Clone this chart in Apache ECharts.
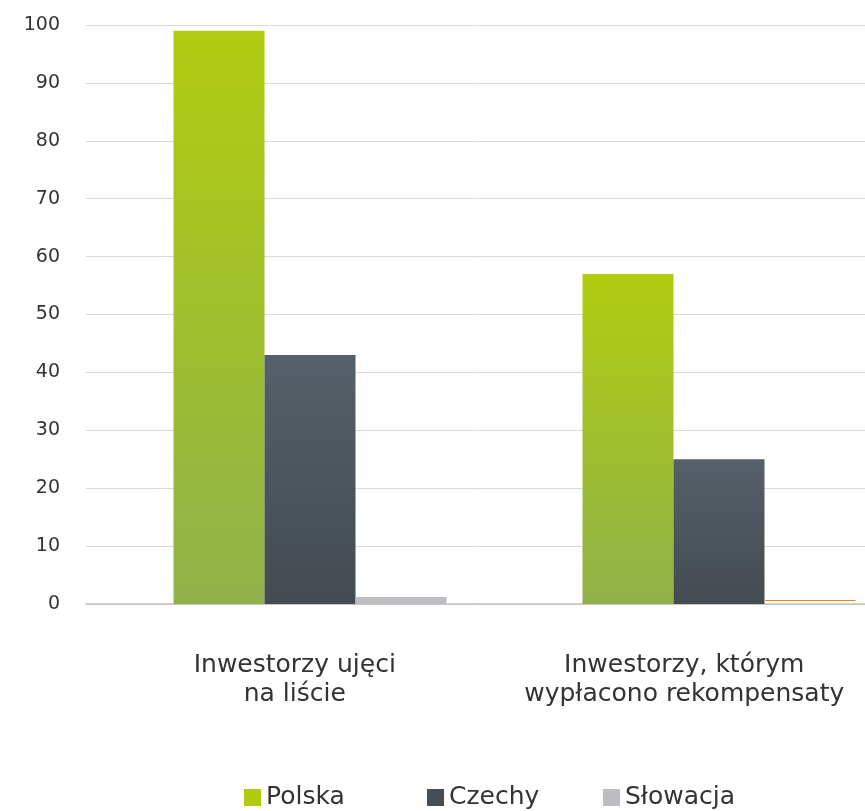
<!DOCTYPE html>
<html>
<head>
<meta charset="utf-8">
<script src="https://cdn.jsdelivr.net/npm/echarts@6/dist/echarts.min.js"></script>
<style>
  html, body { margin: 0; padding: 0; background: #fff; }
  #chart { width: 865px; height: 811px; }
</style>
</head>
<body>
<div id="chart"></div>
<script>
// Categories and series values
const categories = ['Inwestorzy ujęci\nna liście', 'Inwestorzy, którym\nwypłacono rekompensaty'];
const seriesNames = ['Polska', 'Czechy', 'Słowacja'];
const polska = [99, 57];
const czechy = [43, 25];
const slowacja = [1.2, 0.7];
const yTicks = { min: 0, max: 100, interval: 10 };

const FONT = '"DejaVu Sans", "Open Sans", sans-serif';
const TEXT = '#333333';
const seriesColors = ['#b0cb10', '#474e53', '#bbbdc0'];
const legendLefts = [244, 427, 603];

function vGrad(top, bottom) {
  return { type: 'linear', x: 0, y: 0, x2: 0, y2: 1,
    colorStops: [{ offset: 0, color: top }, { offset: 1, color: bottom }] };
}
// thin orange top edge only
const orangeEdge = { type: 'linear', x: 0, y: 0, x2: 0, y2: 1,
  colorStops: [
    { offset: 0, color: '#f08a00' }, { offset: 0.3, color: '#f08a00' },
    { offset: 0.3, color: 'rgba(255,255,255,0)' }, { offset: 1, color: 'rgba(255,255,255,0)' }
  ] };

// bar groups sit on a positional axis; group i is placed at x = i
const toPoints = arr => arr.map((v, i) => [i, v]);

const chart = echarts.init(document.getElementById('chart'));
chart.setOption({
  animation: false,
  backgroundColor: '#ffffff',
  textStyle: { fontFamily: FONT },
  legend: seriesNames.map((name, i) => ({
    left: legendLefts[i], top: 785, padding: 0,
    itemWidth: 17, itemHeight: 17,
    icon: 'rect',
    textStyle: { fontSize: 25, color: TEXT, fontFamily: FONT },
    data: [{ name, itemStyle: { color: seriesColors[i] } }]
  })),
  grid: { left: 86, right: 0, top: 25, bottom: 207 },
  xAxis: [
    { type: 'value', min: -0.5477, max: 1.357, show: false, splitLine: { show: false } },
    { type: 'category', data: categories, position: 'bottom',
      axisLine: { show: true, onZero: false, lineStyle: { color: '#c0c0c0', width: 1.5 } },
      axisTick: { show: false },
      axisLabel: {
        interval: 0, margin: 47, color: TEXT, fontSize: 25, lineHeight: 29, fontFamily: FONT,
        padding: [0, 0, 0, 28]
      } }
  ],
  yAxis: {
    type: 'value', min: yTicks.min, max: yTicks.max, interval: yTicks.interval,
    axisLine: { show: false }, axisTick: { show: false },
    axisLabel: { color: TEXT, fontSize: 19, margin: 26, fontFamily: FONT },
    splitLine: { lineStyle: { color: '#d9d9d9', width: 1 } }
  },
  series: [
    { name: seriesNames[0], type: 'bar', xAxisIndex: 0,
      data: toPoints(polska), barWidth: 91, barGap: '0%',
      itemStyle: { color: vGrad('#b1cc10', '#90b24a') } },
    { name: seriesNames[1], type: 'bar', xAxisIndex: 0,
      data: toPoints(czechy), barWidth: 91, barGap: '0%',
      itemStyle: { color: vGrad('#56606a', '#444b51') } },
    { name: seriesNames[2], type: 'bar', xAxisIndex: 0,
      barWidth: 91, barGap: '0%',
      data: [
        { value: [0, slowacja[0]], itemStyle: { color: '#bbbdc0' } },
        { value: [1, slowacja[1]], itemStyle: { color: orangeEdge } }
      ],
      itemStyle: { color: seriesColors[2] } }
  ]
});
</script>
</body>
</html>
